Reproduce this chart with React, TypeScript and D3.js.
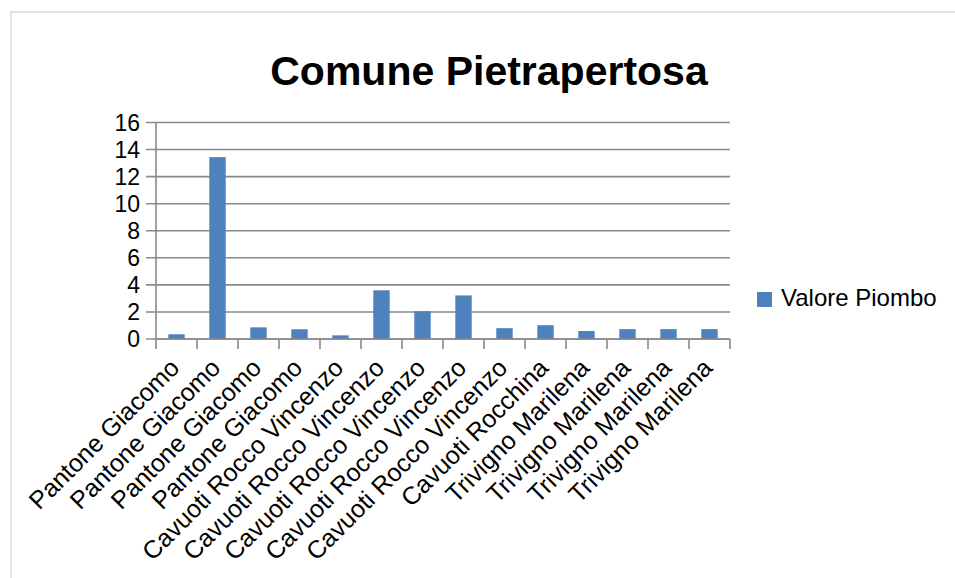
import React from "react";
import * as d3 from "d3";

const categories: string[] = [
  "Pantone Giacomo",
  "Pantone Giacomo",
  "Pantone Giacomo",
  "Pantone Giacomo",
  "Cavuoti Rocco Vincenzo",
  "Cavuoti Rocco Vincenzo",
  "Cavuoti Rocco Vincenzo",
  "Cavuoti Rocco Vincenzo",
  "Cavuoti Rocco Vincenzo",
  "Cavuoti Rocchina",
  "Trivigno Marilena",
  "Trivigno Marilena",
  "Trivigno Marilena",
  "Trivigno Marilena",
];
const valoriPiombo: number[] = [0.35, 13.44, 0.86, 0.72, 0.27, 3.6, 2.05, 3.22, 0.8, 1.02, 0.59, 0.73, 0.73, 0.73];
const yTicks: number[] = [0, 2, 4, 6, 8, 10, 12, 14, 16];
const title = "Comune Pietrapertosa";
const seriesName = "Valore Piombo";

const W = 955;
const H = 578;
const plot = { left: 156, right: 730, top: 122.5, bottom: 339 };
const FONT = "'Liberation Sans', Arial, sans-serif";
const BAR = "#4f81bd";
const GRID = "#8a8a8a";

export default function App() {
  const idx = categories.map((_, i) => i);
  const x = d3
    .scaleBand<number>()
    .domain(idx)
    .range([plot.left, plot.right])
    .paddingInner(0.6)
    .paddingOuter(0.3);
  const step = x.step();
  const y = d3.scaleLinear().domain([0, 16]).range([plot.bottom, plot.top]);
  const boundaries = d3.range(categories.length + 1).map((i) => plot.left + i * step);

  return (
    <svg
      width={W}
      height={H}
      style={{ position: "absolute", left: 0, top: 0, background: "#fff" }}
    >
      <rect x={11} y={12} width={980} height={600} fill="#fff" stroke="#d9d9d9" strokeWidth={1.5} />
      <text
        x={489}
        y={85}
        textAnchor="middle"
        fontFamily={FONT}
        fontWeight="bold"
        fontSize={41}
        fill="#000"
      >
        {title}
      </text>
      {yTicks.map((t) => (
        <line
          key={"g" + t}
          x1={plot.left - 10}
          x2={plot.right}
          y1={y(t)}
          y2={y(t)}
          stroke={GRID}
          strokeWidth={1.6}
        />
      ))}
      {yTicks.map((t) => (
        <text
          key={"yl" + t}
          x={140}
          y={y(t)}
          dy="0.36em"
          textAnchor="end"
          fontFamily={FONT}
          fontSize={23}
          fill="#000"
        >
          {t}
        </text>
      ))}
      {valoriPiombo.map((v, i) => (
        <rect key={"b" + i} x={x(i)} y={y(v)} width={x.bandwidth()} height={y(0) - y(v)} fill={BAR} />
      ))}
      <line x1={plot.left} x2={plot.left} y1={plot.top} y2={plot.bottom} stroke={GRID} strokeWidth={1.6} />
      <line x1={plot.left} x2={plot.right} y1={plot.bottom} y2={plot.bottom} stroke={GRID} strokeWidth={1.6} />
      {boundaries.map((bx, i) => (
        <line key={"t" + i} x1={bx} x2={bx} y1={plot.bottom} y2={plot.bottom + 10} stroke={GRID} strokeWidth={1.6} />
      ))}
      {categories.map((c, i) => {
        const cx = (x(i) as number) + x.bandwidth() / 2;
        return (
          <text
            key={"c" + i}
            transform={`translate(${cx - 2},${363}) rotate(-45)`}
            textAnchor="end"
            dominantBaseline="central"
            fontFamily={FONT}
            fontSize={25}
            fill="#000"
          >
            {c}
          </text>
        );
      })}
      <rect x={757} y={292} width={15} height={15} fill={BAR} />
      <text x={781} y={306} fontFamily={FONT} fontSize={24} fill="#000">
        {seriesName}
      </text>
    </svg>
  );
}
